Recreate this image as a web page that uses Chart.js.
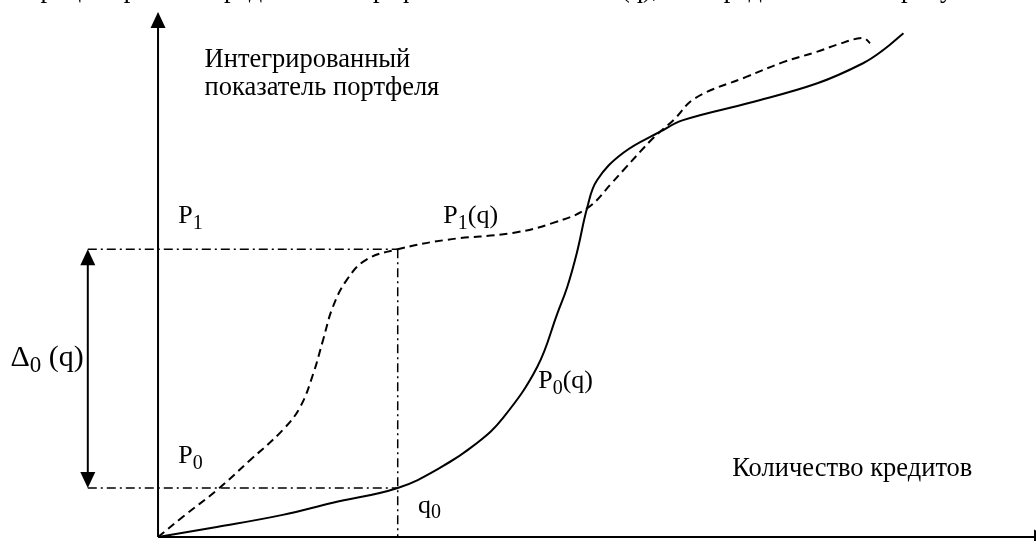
<!DOCTYPE html>
<html>
<head>
<meta charset="utf-8">
<script src="https://cdn.jsdelivr.net/npm/chart.js@4/dist/chart.umd.min.js"></script>
<style>
  html, body { margin: 0; padding: 0; background: #fff; }
  #wrap { width: 1036px; height: 541px; position: relative; }
</style>
</head>
<body>
<div id="wrap"><canvas id="diagram"></canvas></div>
<script>
// количество кредитов (q) и значения показателя для кривых
const qP1 = [0, 2.8, 6.7, 10.5, 14.2, 16.2, 17.7, 18.8, 19.9, 21.5, 23.7, 27.3, 32.9, 40.4, 45.0, 48.9, 51.8, 53.0, 56.4, 58.7, 61.2, 67.0, 71.2, 75.1, 77.3, 80.3, 81.1];
const valP1 = [0, 3.8, 8.9, 14.6, 20.3, 24.7, 31.1, 37.4, 43.6, 48.8, 52.6, 54.6, 56.4, 57.7, 59.6, 62.4, 67.4, 69.6, 75.7, 79.1, 83.3, 87.3, 90.1, 92.1, 93.4, 94.7, 93.7];

const qP0 = [0, 6.7, 14.2, 19.9, 27.3, 32.1, 36.3, 39.3, 43.2, 45.5, 46.6, 47.7, 48.9, 50.0, 53.0, 57.2, 59.8, 67.4, 75.1, 80.3, 82.6, 84.9];
const valP0 = [0, 1.9, 4.2, 6.5, 9.3, 13.1, 17.8, 22.6, 32.3, 42.5, 47.4, 53.9, 62.6, 67.7, 72.9, 76.9, 79.1, 82.4, 86.1, 89.9, 92.4, 95.6];

// уровни
const levelP1 = 54.6;
const levelP0 = 9.3;
const q0 = 27.3;
const deltaX = -8;

const toPoints = (xs, ys) => xs.map((x, i) => ({ x: x, y: ys[i] }));

const serif = '"Liberation Serif", "DejaVu Serif", serif';

// подпись с нижним индексом
function subText(ctx, x, y, main, sub, rest, size) {
  ctx.font = size + "px " + serif;
  ctx.fillText(main, x, y);
  let w = ctx.measureText(main).width;
  ctx.font = Math.round(size * 0.78) + "px " + serif;
  ctx.fillText(sub, x + w, y + size * 0.22);
  w += ctx.measureText(sub).width;
  if (rest) {
    ctx.font = size + "px " + serif;
    ctx.fillText(rest, x + w, y);
  }
}

function arrowHead(ctx, x, y, dir) {
  ctx.beginPath();
  if (dir === "up") {
    ctx.moveTo(x, y); ctx.lineTo(x - 7.5, y + 16); ctx.lineTo(x + 7.5, y + 16);
  } else if (dir === "down") {
    ctx.moveTo(x, y); ctx.lineTo(x - 7.5, y - 16); ctx.lineTo(x + 7.5, y - 16);
  } else {
    ctx.moveTo(x, y); ctx.lineTo(x - 16, y - 7.5); ctx.lineTo(x - 16, y + 7.5);
  }
  ctx.closePath();
  ctx.fill();
}

const schemePlugin = {
  id: "scheme",
  afterDatasetsDraw(chart) {
    const { ctx, scales } = chart;
    const sx = v => scales.x.getPixelForValue(v);
    const sy = v => scales.y.getPixelForValue(v);
    ctx.save();
    ctx.fillStyle = "#000";
    ctx.strokeStyle = "#000";

    // оси
    ctx.lineWidth = 2;
    ctx.beginPath();
    ctx.moveTo(sx(0), sy(0));
    ctx.lineTo(sx(0), sy(99.3));
    ctx.moveTo(sx(0), sy(0));
    ctx.lineTo(sx(101.5), sy(0));
    ctx.stroke();
    arrowHead(ctx, sx(0), sy(99.6), "up");
    arrowHead(ctx, sx(101.6), sy(0), "right");

    // стрелка Δ0(q)
    ctx.beginPath();
    ctx.moveTo(sx(deltaX), sy(levelP1) + 10);
    ctx.lineTo(sx(deltaX), sy(levelP0) - 10);
    ctx.stroke();
    arrowHead(ctx, sx(deltaX), sy(levelP1), "up");
    arrowHead(ctx, sx(deltaX), sy(levelP0), "down");

    // подписи
    ctx.textBaseline = "alphabetic";
    ctx.textAlign = "left";
    ctx.font = "26.5px " + serif;
    ctx.fillText("Интегрированный", sx(5.3), sy(89.1));
    ctx.fillText("показатель портфеля", sx(5.3), sy(83.9));
    ctx.fillText("Количество кредитов", sx(65.4), sy(11.6));

    subText(ctx, sx(2.3), sy(59.6), "P", "1", "", 26);
    subText(ctx, sx(32.5), sy(59.6), "P", "1", "(q)", 26);
    subText(ctx, sx(2.3), sy(14.0), "P", "0", "", 26);
    subText(ctx, sx(43.3), sy(28.2), "P", "0", "(q)", 26);
    subText(ctx, sx(29.6), sy(4.6), "q", "0", "", 26);

    const dx = sx(-16.8), dy = sy(32.4);
    ctx.font = "30px " + serif;
    ctx.fillText("Δ", dx, dy);
    let w = ctx.measureText("Δ").width;
    ctx.font = "23px " + serif;
    ctx.fillText("0", dx + w, dy + 6);
    w += ctx.measureText("0").width;
    ctx.font = "30px " + serif;
    ctx.fillText(" (q)", dx + w, dy);

    // обрезанная строка текста сверху
    ctx.font = "26.5px " + serif;
    ctx.textAlign = "right";
    ctx.fillText(", и процесс работы кредитного портфеля от количества ", 621, -3);
    ctx.textAlign = "left";
    ctx.fillText("(q), что представлено на рисунке", 621, -3);
    ctx.restore();
  }
};

new Chart(document.getElementById("diagram"), {
  type: "line",
  data: {
    datasets: [
      {
        label: "P1(q)",
        data: toPoints(qP1, valP1),
        borderColor: "#000",
        borderWidth: 2,
        borderDash: [8, 5],
        tension: 0.4,
        pointRadius: 0,
        fill: false
      },
      {
        label: "P0(q)",
        data: toPoints(qP0, valP0),
        borderColor: "#000",
        borderWidth: 2,
        tension: 0.4,
        pointRadius: 0,
        fill: false
      },
      {
        label: "P1",
        data: [{ x: deltaX, y: levelP1 }, { x: q0, y: levelP1 }],
        borderColor: "#000",
        borderWidth: 1.5,
        borderDash: [9, 4, 2, 4],
        pointRadius: 0
      },
      {
        label: "P0",
        data: [{ x: deltaX, y: levelP0 }, { x: q0, y: levelP0 }],
        borderColor: "#000",
        borderWidth: 1.5,
        borderDash: [9, 4, 2, 4],
        pointRadius: 0
      },
      {
        label: "q0",
        data: [{ x: q0, y: levelP1 }, { x: q0, y: 0 }],
        borderColor: "#000",
        borderWidth: 1.5,
        borderDash: [9, 4, 2, 4],
        pointRadius: 0
      }
    ]
  },
  options: {
    responsive: true,
    maintainAspectRatio: false,
    animation: false,
    layout: { padding: 0 },
    plugins: {
      legend: { display: false },
      tooltip: { enabled: false }
    },
    scales: {
      x: { type: "linear", min: -18, max: 100, display: false },
      y: { type: "linear", min: -0.76, max: 101.9, display: false }
    }
  },
  plugins: [schemePlugin]
});
</script>
</body>
</html>
